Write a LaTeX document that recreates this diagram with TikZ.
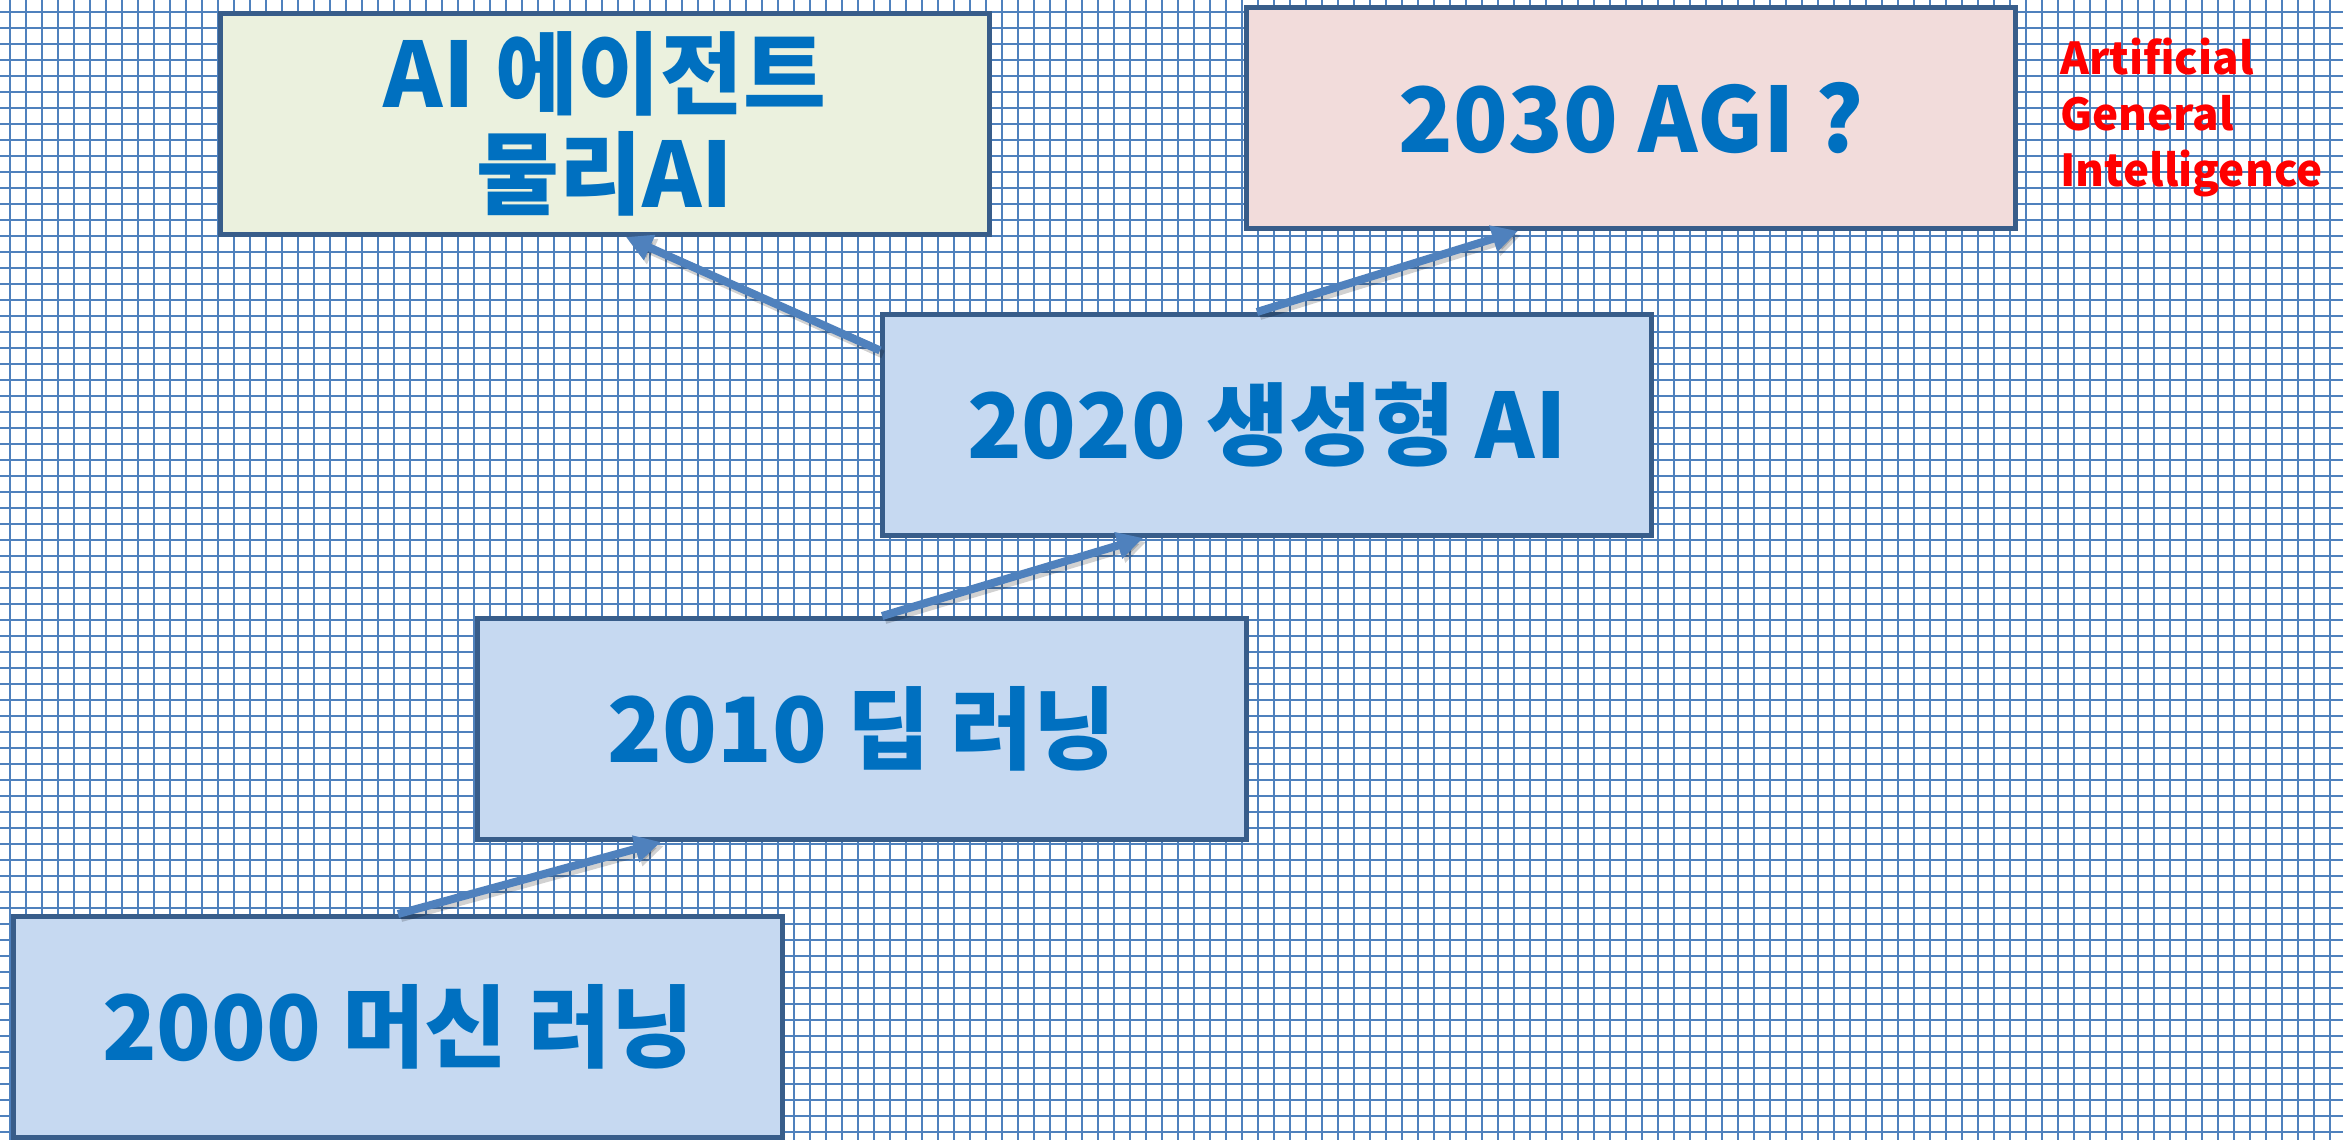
\documentclass[tikz,border=0pt]{standalone}
\usepackage{fontspec}
\setmainfont{Noto Sans CJK KR}
\usetikzlibrary{arrows.meta,calc,shadows}
\definecolor{gridblue}{RGB}{79,129,189}
\definecolor{edgeblue}{RGB}{56,93,138}
\definecolor{textblue}{RGB}{0,112,192}
\definecolor{agentfill}{RGB}{235,241,222}
\definecolor{agifill}{RGB}{242,220,219}
\definecolor{erafill}{RGB}{198,217,241}

\begin{document}
\begin{tikzpicture}[x=1pt,y=-1pt,
    era/.style={draw=edgeblue,line width=5pt,fill=erafill,minimum width=769pt,minimum height=221pt,inner sep=0pt,
        text=textblue,font=\bfseries\fontsize{90}{100}\selectfont,align=center,
        drop shadow={shadow xshift=2pt,shadow yshift=-2pt,opacity=.3}},
    leap/.style={draw=gridblue,line width=8pt,-{Triangle[length=26pt,width=26pt]}},
    leapshade/.style={leap,draw=black,opacity=.18,transform canvas={xshift=3pt,yshift=-4pt}}]
    \useasboundingbox (0,0) rectangle (2343,1140);
    \fill[white] (0,0) rectangle (2343,1140);
    \foreach \i in {0,...,145}
        \draw[gridblue,line width=2pt] (10+16*\i,0) -- (10+16*\i,1140);
    \foreach \j in {0,...,70}
        \draw[gridblue,line width=2pt] (0,12+16*\j) -- (2343,12+16*\j);

    \node[era,fill=agentfill] (agent) at (605,124) {AI 에이전트\\물리AI};
    \node[era,fill=agifill] (agi) at (1631,118) {2030 AGI ?};
    \node[era] (gen) at (1267,425) {2020 생성형 AI};
    \node[era] (dl) at (862,729) {2010 딥 러닝};
    \node[era] (ml) at (398,1027) {2000 머신 러닝};

    \node[text=red,font=\bfseries\fontsize{44}{56}\selectfont,align=left,anchor=north west,inner sep=0pt] (aginame) at (2060,38) {Artificial\\General\\Intelligence};

    \coordinate (mltail) at (ml.north);
    \coordinate (dlhead) at ($(dl.south west)!0.24!(dl.south east)$);
    \coordinate (dltail) at ($(dl.north west)!0.526!(dl.north east)$);
    \coordinate (genhead) at ($(gen.south west)!0.34!(gen.south east)$);
    \coordinate (gentail) at ($(gen.north west)!0.487!(gen.north east)$);
    \coordinate (agihead) at ($(agi.south west)!0.354!(agi.south east)$);
    \coordinate (genside) at ($(gen.north west)!0.17!(gen.south west)$);
    \coordinate (agenthead) at ($(agent.south west)!0.527!(agent.south east)$);

    \draw[leapshade] (mltail) -- (dlhead);
    \draw[leapshade] (dltail) -- (genhead);
    \draw[leapshade] (gentail) -- (agihead);
    \draw[leapshade] (genside) -- (agenthead);
    \draw[leap] (mltail) -- (dlhead);
    \draw[leap] (dltail) -- (genhead);
    \draw[leap] (gentail) -- (agihead);
    \draw[leap] (genside) -- (agenthead);
\end{tikzpicture}
\end{document}
